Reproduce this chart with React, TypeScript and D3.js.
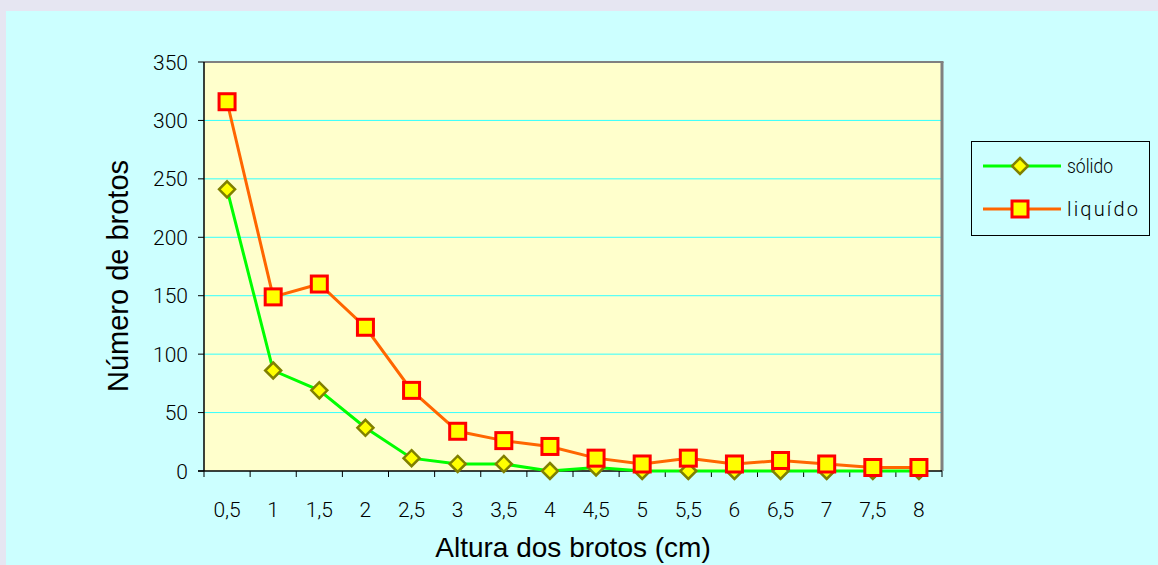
import React from 'react';
import * as d3 from 'd3';

const categories = ['0,5', '1', '1,5', '2', '2,5', '3', '3,5', '4', '4,5', '5', '5,5', '6', '6,5', '7', '7,5', '8'];
const solido = [241, 86, 69, 37, 11, 6, 6, 0, 3, 0, 0, 0, 0, 0, 0, 0];
const liquido = [316, 149, 160, 123, 69, 34, 26, 21, 11, 6, 11, 6, 9, 6, 3, 3];
const yTicks = [0, 50, 100, 150, 200, 250, 300, 350];

const W = 1158;
const H = 565;
const plot = { left: 204, top: 62, right: 942, bottom: 471 };
const font = '"Liberation Sans", Arial, sans-serif';
const tickFont = 'Roboto, "Liberation Sans", Arial, sans-serif';

function Diamond({ x, y }: { x: number; y: number }) {
    const r = 8;
    return <path d={`M${x},${y - r}L${x + r},${y}L${x},${y + r}L${x - r},${y}Z`}
        fill="#FFFF00" stroke="#808000" strokeWidth={2.5} />;
}

function Square({ x, y }: { x: number; y: number }) {
    const s = 16;
    return <rect x={x - s / 2} y={y - s / 2} width={s} height={s}
        fill="#FFFF00" stroke="#FF0000" strokeWidth={3} />;
}

export default function App() {
    const x = d3.scaleBand<string>().domain(categories).range([plot.left, plot.right]);
    const y = d3.scaleLinear().domain([0, 350]).range([plot.bottom, plot.top]);
    const cx = (i: number) => x(categories[i])! + x.bandwidth() / 2;

    const line = d3.line<number>().x((_d, i) => cx(i)).y(d => y(d));

    const boundaries = categories.map(c => x(c)!).concat([plot.right]);

    return (
        <svg width={W} height={H} style={{ position: 'absolute', left: 0, top: 0, display: 'block' }}>
            <rect x={0} y={0} width={W} height={H} fill="#E6E6F2" />
            <rect x={6} y={11} width={W - 6} height={H - 11} fill="#CCFFFF" />

            <rect x={plot.left} y={plot.top} width={plot.right - plot.left} height={plot.bottom - plot.top} fill="#FFFFCC" />
            {yTicks.slice(1, -1).map(t => (
                <line key={t} x1={plot.left} x2={plot.right} y1={y(t)} y2={y(t)} stroke="#33FFFF" strokeWidth={1} />
            ))}
            {/* gray frame top and right */}
            <line x1={plot.left} x2={plot.right + 1.5} y1={plot.top} y2={plot.top} stroke="#808080" strokeWidth={2} />
            <line x1={plot.right} x2={plot.right} y1={plot.top} y2={plot.bottom} stroke="#808080" strokeWidth={3} />

            {/* y axis */}
            <line x1={plot.left} x2={plot.left} y1={plot.top} y2={plot.bottom} stroke="#000" strokeWidth={1.5} />
            {yTicks.map(t => (
                <g key={t}>
                    <line x1={plot.left - 6} x2={plot.left} y1={y(t)} y2={y(t)} stroke="#000" strokeWidth={1} />
                    <text x={plot.left - 16} y={y(t)} dy="0.36em" textAnchor="end" fontFamily={tickFont} fontWeight={300} fontSize={21} fill="#000">{t}</text>
                </g>
            ))}

            {/* x axis */}
            <line x1={plot.left - 6} x2={plot.right} y1={plot.bottom} y2={plot.bottom} stroke="#000" strokeWidth={1.5} />
            {boundaries.map((b, i) => (
                <line key={i} x1={b} x2={b} y1={plot.bottom} y2={plot.bottom + 6} stroke="#000" strokeWidth={1} />
            ))}
            {categories.map((c, i) => (
                <text key={c} x={cx(i)} y={517} textAnchor="middle" fontFamily={tickFont} fontWeight={300} fontSize={21} fill="#000">{c}</text>
            ))}

            {/* series */}
            <path d={line(solido)!} fill="none" stroke="#00FF00" strokeWidth={3} />
            <path d={line(liquido)!} fill="none" stroke="#FF6600" strokeWidth={3} />
            {solido.map((v, i) => <Diamond key={i} x={cx(i)} y={y(v)} />)}
            {liquido.map((v, i) => <Square key={i} x={cx(i)} y={y(v)} />)}

            {/* titles */}
            <text x={573} y={557} textAnchor="middle" fontFamily={font} fontSize={28} fill="#000">Altura dos brotos (cm)</text>
            <text transform={`translate(128,276) rotate(-90)`} textAnchor="middle" fontFamily={font} fontSize={29} fill="#000">Número de brotos</text>

            {/* legend */}
            <rect x={971.5} y={141.5} width={178} height={94} fill="#CCFFFF" stroke="#000" strokeWidth={1} />
            <line x1={983} x2={1061} y1={166} y2={166} stroke="#00FF00" strokeWidth={3} />
            <Diamond x={1020} y={166} />
            <text x={1067} y={166} dy="0.36em" fontFamily={tickFont} fontWeight={300} fontSize={20} textLength={46} lengthAdjust="spacingAndGlyphs" fill="#000">sólido</text>
            <line x1={983} x2={1061} y1={209} y2={209} stroke="#FF6600" strokeWidth={3} />
            <Square x={1020} y={209} />
            <text x={1067} y={209} dy="0.36em" fontFamily={tickFont} fontWeight={300} fontSize={20} textLength={71} lengthAdjust="spacing" fill="#000">liquído</text>
        </svg>
    );
}
